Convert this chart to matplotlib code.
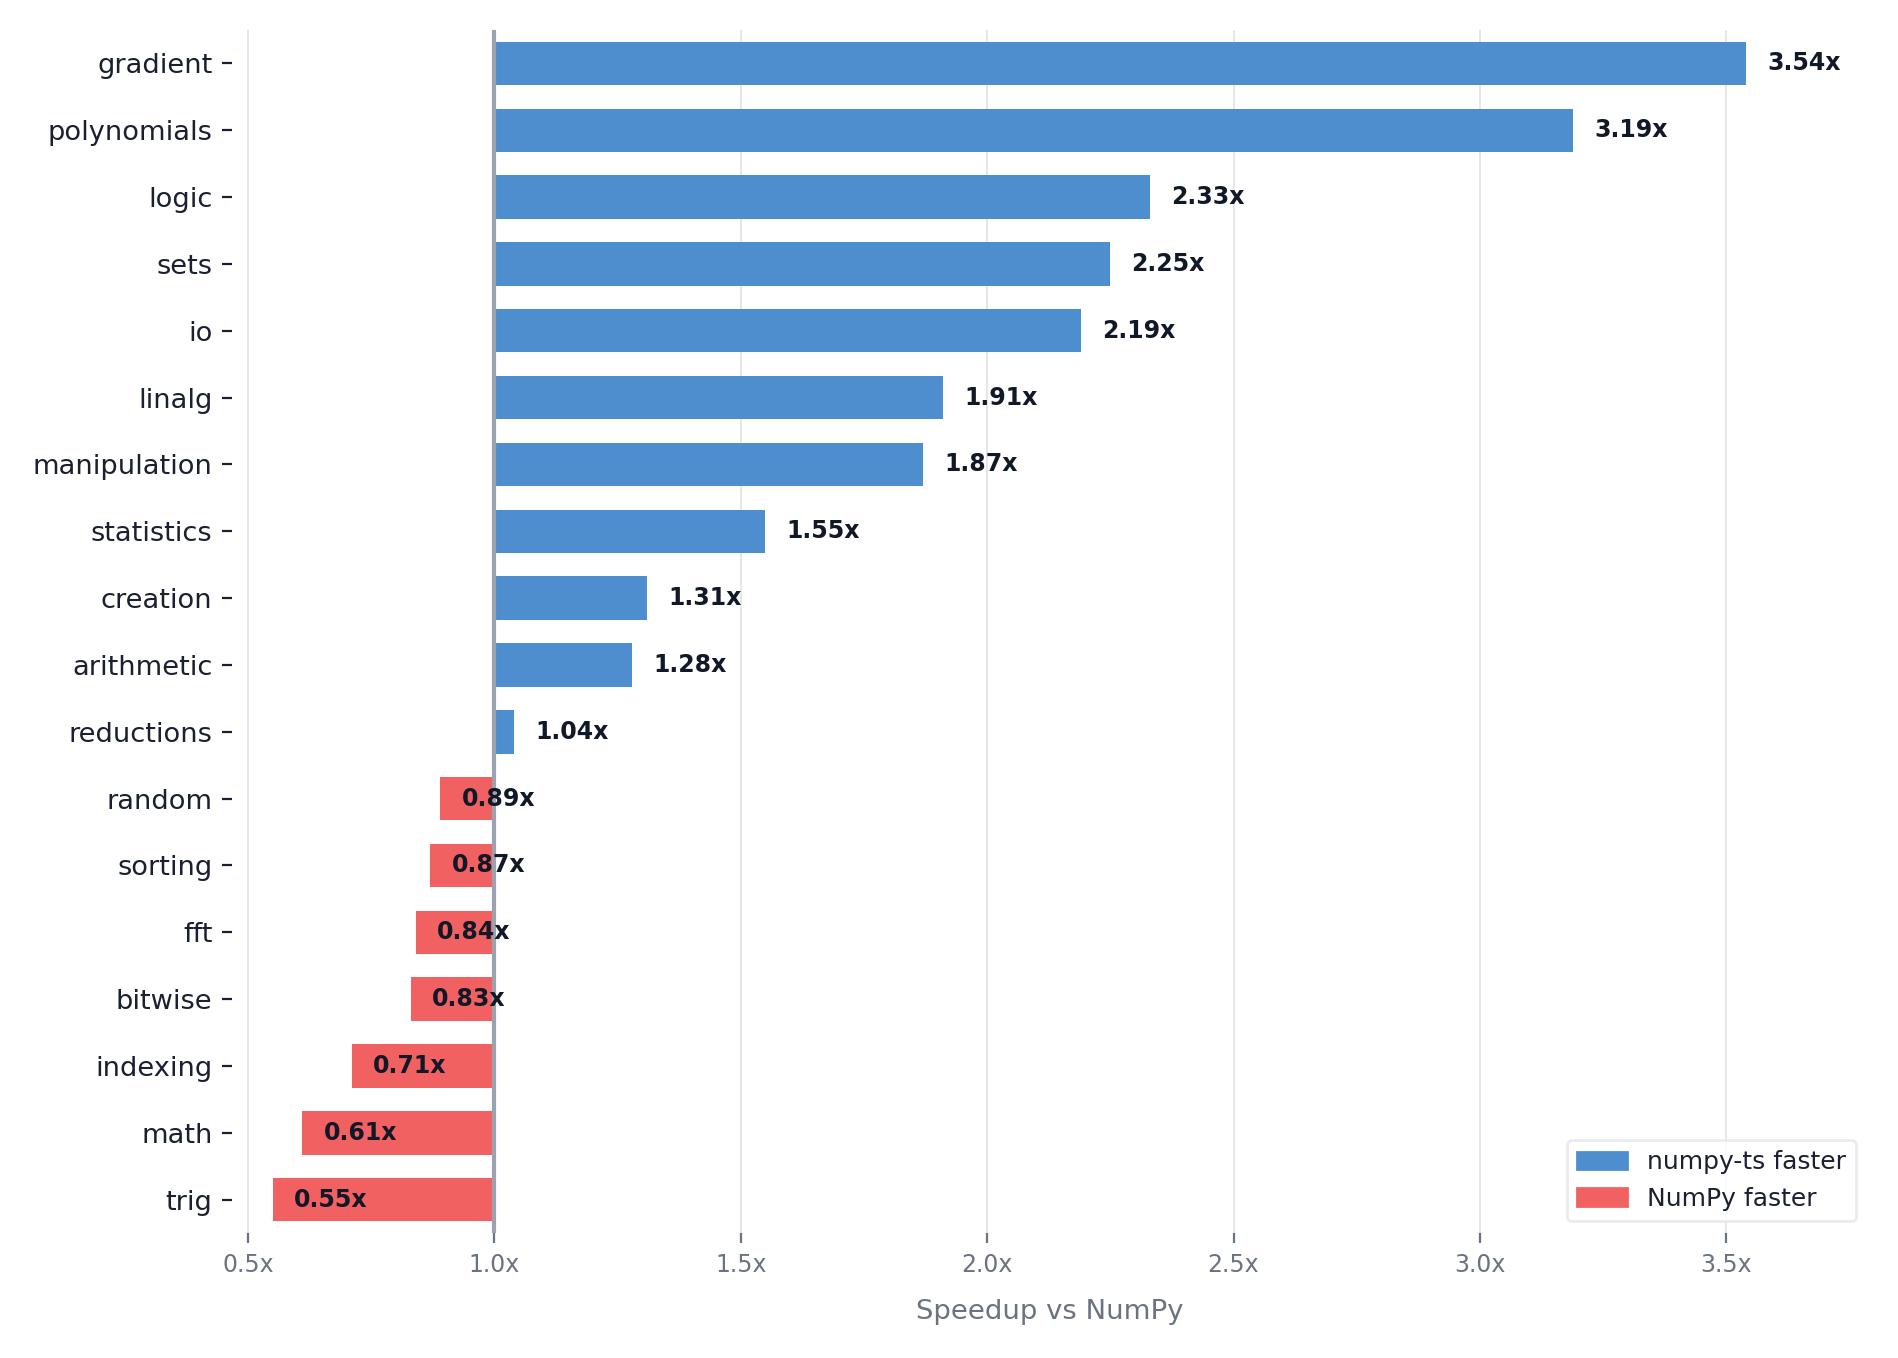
import matplotlib

matplotlib.use("Agg")
from matplotlib import pyplot as plt
from matplotlib.patches import Patch

categories = ["gradient", "polynomials", "logic", "sets", "io", "linalg",
              "manipulation", "statistics", "creation", "arithmetic",
              "reductions", "random", "sorting", "fft", "bitwise",
              "indexing", "math", "trig"]
speedup = [3.54, 3.19, 2.33, 2.25, 2.19, 1.91, 1.87, 1.55, 1.31, 1.28,
           1.04, 0.89, 0.87, 0.84, 0.83, 0.71, 0.61, 0.55]
xticks = [0.5, 1.0, 1.5, 2.0, 2.5, 3.0, 3.5]

BLUE, RED, INK, DIM, GRID, LINE = (
    "#4e8ecf", "#f26161", "#111827", "#6b7280", "#e5e7eb", "#9ca3af")

fig = plt.figure(figsize=(9.495, 6.79), dpi=200)
ax = fig.add_axes([0.1222, 0.0920, 0.8615, 0.8859])

y = list(range(len(categories)))
colors = [BLUE if v >= 1 else RED for v in speedup]
ax.barh(y, [v - 1 for v in speedup], left=1, height=0.65, color=colors, zorder=2)
ax.axvline(1.0, color=LINE, lw=1.5, zorder=3)

# etichette: a destra delle barre blu, dentro quelle rosse
for i, v in enumerate(speedup):
    ax.text(v + 0.043, i, f"{v:.2f}x", va="center", ha="left",
            fontsize=8.5, fontweight="bold", color=INK, zorder=4)

ax.set_yticks(y)
ax.set_yticklabels(categories, fontsize=9.8, color="#1a2030")
ax.set_ylim(len(categories) - 0.5, -0.5)
ax.set_xlim(min(speedup) * 0.85, max(speedup) * 1.07)
ax.set_xticks(xticks)
ax.set_xticklabels([f"{t:.1f}x" for t in xticks], fontsize=8.5, color=DIM)
ax.set_xlabel("Speedup vs NumPy", fontsize=9.9, color=DIM, labelpad=8)

ax.grid(axis="x", color=GRID, lw=0.7, zorder=0)
ax.set_axisbelow(True)
for s in ax.spines.values():
    s.set_visible(False)
ax.tick_params(axis="x", colors=DIM, length=3.5, width=0.8)
ax.tick_params(axis="y", colors="#1a2030", length=3.5, width=0.8)

handles = [Patch(color=BLUE, label="numpy-ts faster"),
           Patch(color=RED, label="NumPy faster")]
leg = ax.legend(handles=handles, loc="lower right", fontsize=9, frameon=True,
                labelcolor="#1a2030")
leg.get_frame().set_edgecolor(GRID)
leg.get_frame().set_linewidth(1.0)

fig.savefig("out.png", dpi=200, facecolor="white")
